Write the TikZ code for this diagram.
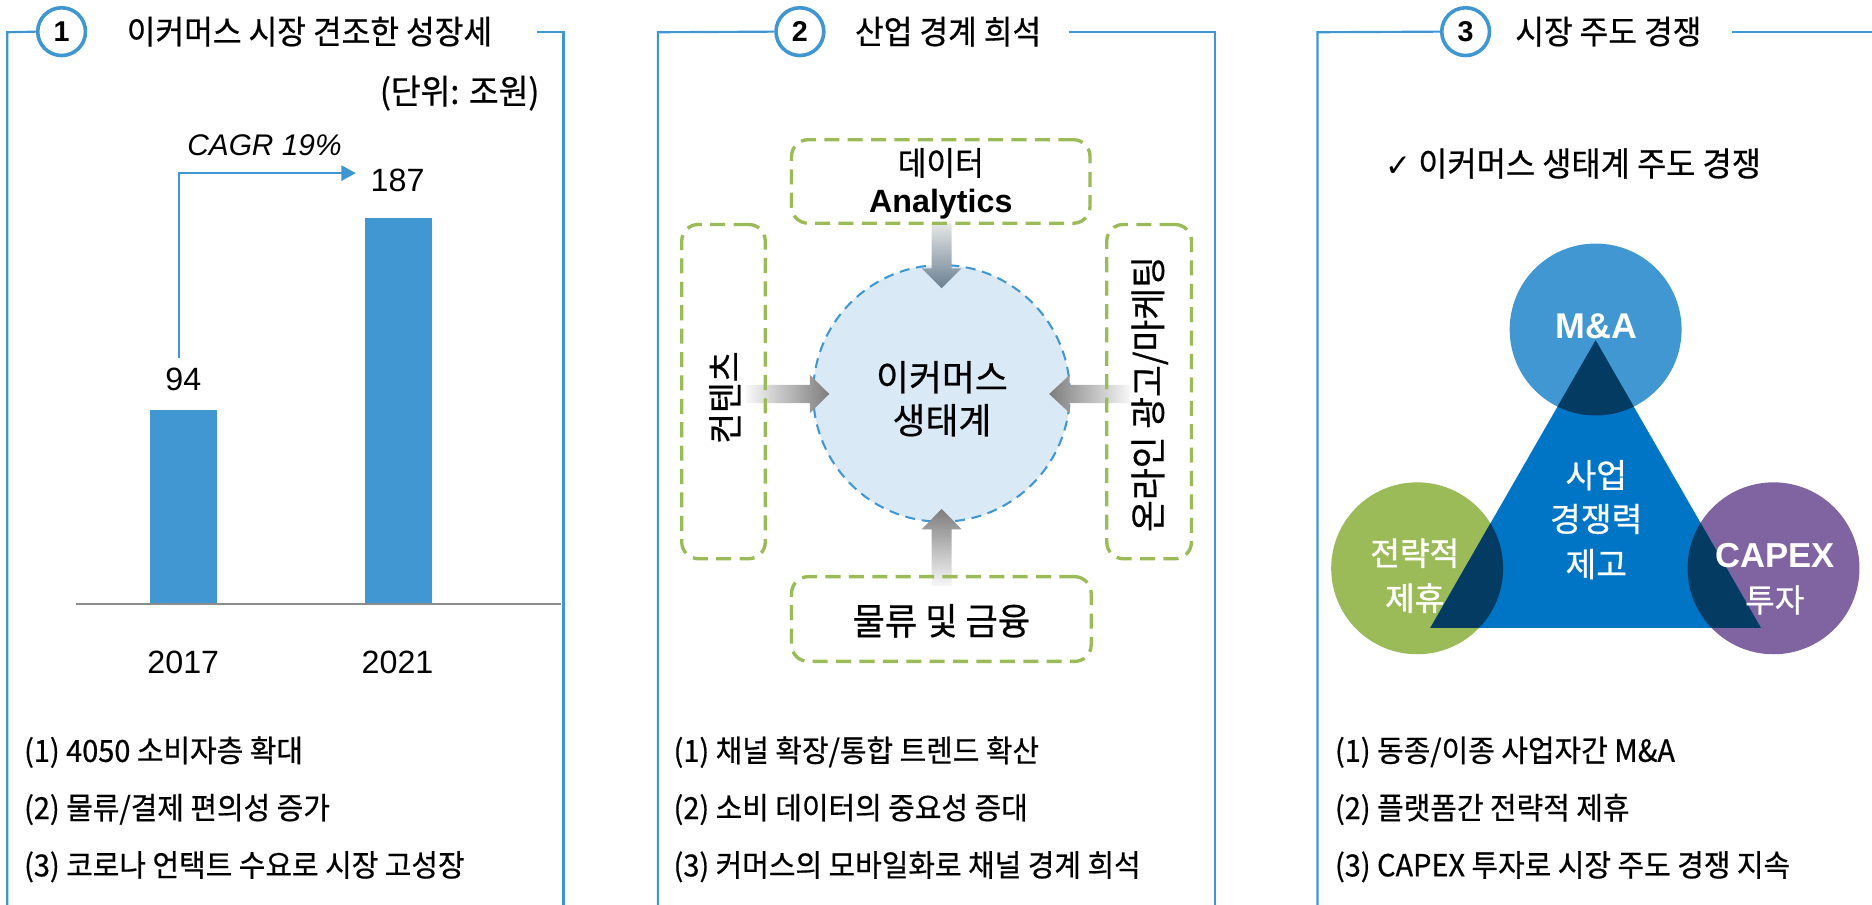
\documentclass[tikz,border=0pt]{standalone}
\usepackage{fontspec}
\setmainfont{Liberation Sans}
\newfontfamily\kr[FakeStretch=0.95,FakeBold=0.6]{Noto Sans CJK KR}
\newfontfamily\krw[FakeBold=0.6]{Noto Sans CJK KR}
\newfontfamily\krm[FakeBold=1.4]{Noto Sans CJK KR}
\newfontfamily\symf{DejaVu Sans}
\usetikzlibrary{arrows.meta}
\definecolor{frameblue}{RGB}{62,150,211}
\definecolor{barblue}{RGB}{64,151,209}
\definecolor{lightblue}{RGB}{218,233,246}
\definecolor{dgreen}{RGB}{155,187,89}
\definecolor{mpurple}{RGB}{128,100,162}
\definecolor{tblue}{RGB}{0,117,198}
\definecolor{navy}{RGB}{3,59,99}
\definecolor{axisgray}{RGB}{140,140,140}
\definecolor{arrowgray}{RGB}{125,125,125}
\definecolor{arrowslate}{RGB}{105,128,146}
\definecolor{arrowlight}{RGB}{248,248,248}
\newcommand{\setfs}[1]{\fontsize{#1}{#1}\selectfont}
\tikzset{
 frame/.style={draw=frameblue, line width=1.8pt},
 badge/.style={circle, draw=frameblue, line width=3pt, fill=white, minimum size=40pt, inner sep=0pt, font=\setfs{24}\bfseries},
 ttl/.style={anchor=west, inner sep=0pt, font=\kr\setfs{27.5}},
 lst/.style={anchor=west, inner sep=0pt, font=\kr\setfs{25.5}},
 num/.style={inner sep=0pt, font=\setfs{27}},
 bar/.style={fill=barblue},
 gbox/.style={draw=dgreen, line width=2.8pt, dash pattern=on 12.6pt off 7pt, rounded corners=14pt, inner sep=0pt},
 ktxt/.style={inner sep=0pt, font=\kr\setfs{#1}},
 wtxt/.style={inner sep=0pt, text=white, font=\krw\setfs{#1}},
 mtxt/.style={inner sep=0pt, text=white, font=\krm\setfs{#1}},
 btxt/.style={inner sep=0pt, font=\bfseries\setfs{#1}},
 bigc/.style={circle, minimum size=144pt, inner sep=0pt},
}
\begin{document}
\begin{tikzpicture}[x=1pt,y=-1pt]
\useasboundingbox (0,0) rectangle (1568,758);
% ---------- frames ----------
\coordinate (p1tl) at (6.1,27);   \coordinate (p1bl) at (6.1,758);
\coordinate (p1tr0) at (450,27);  \coordinate (p1tr) at (472,27); \coordinate (p1br) at (472,758);
\coordinate (p2tl) at (551,27);   \coordinate (p2bl) at (551,758);
\coordinate (p2tr0) at (895,27);  \coordinate (p2tr) at (1017.5,27); \coordinate (p2br) at (1017.5,758);
\coordinate (p3tl) at (1103.5,27); \coordinate (p3bl) at (1103.5,758);
\coordinate (p3tr0) at (1450.6,27); \coordinate (p3tr) at (1568,27);
\draw[frame] (p1tr0) -- (p1tr) -- (p1br);
\draw[frame] (p2tr0) -- (p2tr) -- (p2br);
\draw[frame] (p3tr0) -- (p3tr);
\node[badge] (b1) at (51.6,26.5) {1};
\node[badge] (b2) at (670,26.5) {2};
\node[badge] (b3) at (1227.6,26.5) {3};
\draw[frame] (b1.west) -- (p1tl) -- (p1bl);
\draw[frame] (b2.west) -- (p2tl) -- (p2bl);
\draw[frame] (b3.west) -- (p3tl) -- (p3bl);
\node[ttl] (t1) at (106,26.5) {이커머스 시장 견조한 성장세};
\node[ttl] (t2) at (716,26.5) {산업 경계 희석};
\node[ttl] (t3) at (1269,26.5) {시장 주도 경쟁};
% ---------- panel 1 ----------
\node[ktxt=28.5, anchor=east] (unit) at (452,78) {(단위: 조원)};
\fill[bar] (125.6,343) rectangle (181.5,506);
\fill[bar] (305.7,183) rectangle (362,506);
\draw[draw=axisgray, line width=1.2pt] (64,506) -- (470,506);
\node[num] (v94) at (153.5,318) {94};
\node[num] (v187) at (333,150.7) {187};
\node[num] (y17) at (153.5,555) {2017};
\node[num] (y21) at (333,555) {2021};
\node[inner sep=0pt, font=\itshape\setfs{25}] (cagr) at (221.5,121.4) {CAGR 19\%};
\coordinate (cagrA) at (150,300);
\coordinate (cagrB) at (298,145);
\draw[draw=frameblue, line width=2pt, -{Triangle[length=12pt,width=12.6pt]}] (cagrA) |- (cagrB);
\node[lst] (l11) at (20,630) {(1) 4050 소비자층 확대};
\node[lst] (l12) at (20,678) {(2) 물류/결제 편의성 증가};
\node[lst] (l13) at (20,726) {(3) 코로나 언택트 수요로 시장 고성장};
% ---------- panel 2 ----------
\node[circle, minimum size=215pt, inner sep=0pt, fill=lightblue, draw=frameblue, line width=1.7pt, dash pattern=on 8.4pt off 5.6pt] (eco) at (788.6,329.5) {};
% fat arrows
\shade[top color=arrowlight!85!gray, bottom color=arrowslate] (780.3,187) -- (797.1,187) -- (797.1,224.7) -- (805.5,224.7) -- (788.7,241.5) -- (772,224.7) -- (780.3,224.7) -- cycle;
\shade[left color=arrowlight, right color=arrowgray] (625,322.3) -- (678.4,322.3) -- (678.4,314) -- (694.6,330) -- (678.4,346) -- (678.4,337.7) -- (625,337.7) -- cycle;
\shade[left color=arrowgray, right color=arrowlight] (947,322.3) -- (896,322.3) -- (896,314) -- (878.8,330) -- (896,346) -- (896,337.7) -- (947,337.7) -- cycle;
\shade[top color=arrowgray, bottom color=arrowlight] (780.3,491) -- (780.3,443.3) -- (772,443.3) -- (788.7,426.3) -- (805.5,443.3) -- (797.1,443.3) -- (797.1,491) -- cycle;
\node[gbox, minimum width=250pt, minimum height=70pt] (topbox) at (788,152) {};
\node[gbox, minimum width=70pt, minimum height=280pt] (leftbox) at (606,328) {};
\node[gbox, minimum width=71pt, minimum height=280pt] (rightbox) at (962.5,328) {};
\node[gbox, minimum width=251pt, minimum height=71pt] (botbox) at (788.5,518.5) {};
\node[ktxt=27.5] (tdata) at (788,136.5) {데이터};
\node[btxt=27] (tana) at (788,171) {Analytics};
\node[ktxt=29.5, rotate=90] (tcont) at (607,333) {컨텐츠};
\node[ktxt=30.5, rotate=90] (tonl) at (963,330) {온라인 광고/마케팅};
\node[ktxt=31] (tlog) at (788.5,520) {물류 및 금융};
\node[inner sep=0pt, font=\krw\setfs{30}] (eco1) at (789,316) {이커머스};
\node[inner sep=0pt, font=\krw\setfs{30}] (eco2) at (789,352) {생태계};
\node[lst] (l21) at (564,630) {(1) 채널 확장/통합 트렌드 확산};
\node[lst] (l22) at (564,678) {(2) 소비 데이터의 중요성 증대};
\node[lst] (l23) at (564,726) {(3) 커머스의 모바일화로 채널 경계 희석};
% ---------- panel 3 ----------
\node[ktxt=28, anchor=west] (chk) at (1160,137) {{\symf\setfs{26}✓} 이커머스 생태계 주도 경쟁};
\node[bigc, fill=barblue] (ma) at (1336.5,276) {};
\node[bigc, fill=dgreen] (al) at (1187,476) {};
\node[bigc, fill=mpurple] (cx) at (1485.5,476) {};
\coordinate (apex) at (1336.5,285);
\coordinate (bl) at (1198,526);
\coordinate (br) at (1475,526);
\fill[tblue] (apex) -- (bl) -- (br) -- cycle;
\begin{scope}
\clip (apex) -- (bl) -- (br) -- cycle;
\fill[navy] (ma.center) circle[radius=72pt];
\fill[navy] (al.center) circle[radius=72pt];
\fill[navy] (cx.center) circle[radius=72pt];
\end{scope}
\node[btxt=30, text=white] (tma) at (1337,273.6) {M\&A};
\node[mtxt=27] (tal1) at (1185,463.4) {전략적};
\node[mtxt=27] (tal2) at (1185,501) {제휴};
\node[btxt=29, text=white] (tcx1) at (1486.5,465) {CAPEX};
\node[wtxt=27] (tcx2) at (1486.5,502.5) {투자};
\node[wtxt=28] (tc1) at (1337,398) {사업};
\node[wtxt=28] (tc2) at (1337,434.7) {경쟁력};
\node[wtxt=28] (tc3) at (1337,472.5) {제고};
\node[lst] (l31) at (1118,630) {(1) 동종/이종 사업자간 M\&A};
\node[lst] (l32) at (1118,678) {(2) 플랫폼간 전략적 제휴};
\node[lst] (l33) at (1118,726) {(3) CAPEX 투자로 시장 주도 경쟁 지속};
\end{tikzpicture}
\end{document}
